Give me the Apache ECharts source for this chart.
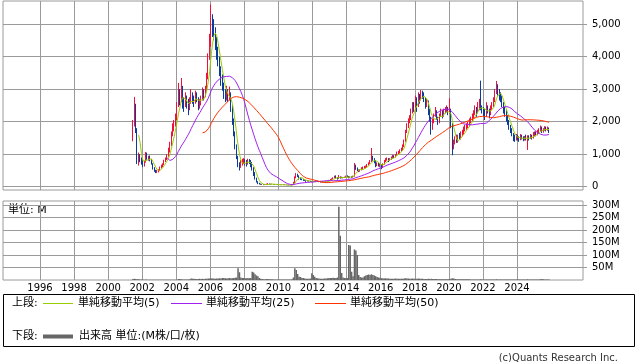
<!DOCTYPE html>
<html><head><meta charset="utf-8">
<script src="https://cdn.jsdelivr.net/npm/echarts@6/dist/echarts.min.js"></script>
<style>html,body{margin:0;padding:0;background:#fff}#c{width:638px;height:362px}</style>
</head><body><div id="c"></div>
<script>
// Monthly data, first candle = June 2001
const startYear = 2001, startMonth = 6;

const open = [
 1500,1950,2500,1750,800,950,820,
 760,650,760,1000,880,900,820,700,550,480,450,470,
 500,600,650,700,800,850,950,1100,1300,1600,1800,1900,
 2100,2500,2900,2700,3000,2600,2500,2700,2600,2400,2600,2800,
 2700,2600,2800,2700,2500,2600,2700,2900,2800,3000,3400,4000,
 4500,5100,4900,4700,4400,4100,3900,3600,3300,3100,2800,2700,
 2900,2700,2800,2400,2000,1600,1200,900,700,600,700,750,
 800,750,700,800,750,700,550,400,250,150,100,80,
 70,70,60,60,80,90,80,75,80,75,70,65,
 60,60,55,60,65,55,50,50,45,45,50,120,
 280,380,320,250,230,210,200,190,170,180,170,160,
 150,150,160,180,170,150,140,140,150,150,160,180,
 200,220,240,270,310,280,250,300,270,290,280,290,
 320,300,280,300,290,320,620,560,500,480,520,560,
 580,600,620,680,720,780,900,850,800,650,700,650,
 680,620,700,800,850,860,820,850,900,950,920,980,
 1050,1050,1100,1150,1250,1400,1700,1900,2000,2100,2300,2500,
 2400,2700,2500,2800,2700,2900,2800,2700,2500,2600,2300,2100,
 1800,2000,2200,2300,2100,2000,2200,2300,2200,2300,2350,2400,
 2300,2300,1900,1250,1350,1450,1400,1550,1500,1600,1650,1750,
 1800,1850,1900,2000,2050,2150,2250,2350,2300,2450,2650,2400,
 2350,2300,2200,2450,2350,2250,2400,2500,2650,2900,3050,2900,
 2800,2700,2550,2350,2250,2100,2000,1850,1750,1600,1500,1450,
 1550,1500,1450,1550,1500,1450,1500,1450,1550,1500,1550,1500,
 1600,1650,1600,1700,1750,1800,1700,1750,1800,1750,1800
];
const high = [
 2050,2760,2550,1800,1050,1000,900,
 850,800,1070,1050,950,960,850,720,600,520,520,540,
 620,680,720,830,900,1000,1200,1380,1700,1950,2050,2250,
 2600,3190,3000,3340,3100,2750,2900,2800,2700,2750,3000,2900,
 2800,2950,2900,2750,2700,2800,3050,3000,3100,3500,4100,4700,
 5600,5300,5150,4900,4600,4300,4000,3700,3450,3200,3000,3100,
 3000,3080,2900,2500,2100,1700,1300,950,750,820,860,880,
 850,820,860,850,820,760,600,450,280,170,120,95,
 85,80,75,95,110,100,90,95,85,80,75,70,
 70,65,70,75,70,60,60,55,55,60,150,320,
 420,400,350,280,250,230,220,200,200,190,180,170,
 165,175,200,190,175,160,155,160,160,170,190,210,
 240,260,290,340,350,290,360,320,310,300,310,340,
 350,330,320,320,340,730,680,590,530,540,600,620,
 640,650,700,750,820,1190,950,880,820,750,740,720,
 700,720,820,880,900,880,880,930,980,970,1000,1080,
 1100,1150,1200,1300,1450,1750,1950,2100,2200,2400,2600,2600,
 2800,2750,2900,2850,2970,2950,2900,2750,2700,2650,2400,2150,
 2100,2250,2450,2350,2150,2250,2400,2350,2400,2450,2500,2450,
 2720,2400,1950,1450,1550,1600,1600,1650,1700,1750,1850,1900,
 1950,2000,2100,2150,2250,2350,2500,2450,2600,2700,3260,2500,
 2450,2400,2600,2500,2400,2500,2600,2750,3000,3250,3150,3000,
 2900,2800,2600,2450,2350,2200,2050,1900,1800,1650,1600,1620,
 1600,1550,1620,1600,1550,1560,1600,1580,1580,1620,1600,1680,
 1700,1700,1750,1800,1880,1850,1800,1860,1850,1850,1820
];
const low = [
 1400,1850,1650,700,650,750,680,
 600,620,740,830,800,780,680,530,460,420,420,440,
 480,560,600,660,760,820,920,1050,1250,1550,1700,1850,
 2050,2450,2500,2600,2400,2300,2450,2400,2200,2350,2550,2550,
 2450,2550,2600,2350,2400,2500,2650,2650,2750,2950,3300,3900,
 4300,4600,4500,4200,3900,3700,3400,3100,2950,2700,2600,2650,
 2600,2650,2300,1900,1550,1150,850,600,500,580,650,700,
 650,620,680,700,600,500,330,220,130,80,70,60,
 55,50,50,55,70,70,65,70,65,60,55,55,
 50,50,50,55,50,45,45,40,40,40,50,110,
 260,300,220,210,200,180,180,150,160,160,150,140,
 140,145,155,160,140,130,130,135,140,145,155,175,
 190,210,230,260,260,220,240,250,260,260,270,280,
 290,260,270,270,280,310,520,480,450,460,500,530,
 560,570,600,650,700,760,800,720,600,630,620,600,
 540,580,680,760,800,760,800,830,870,880,900,960,
 980,1020,1080,1120,1220,1380,1650,1800,1950,2050,2250,2300,
 2350,2300,2450,2550,2650,2700,2600,2400,2450,2200,2000,1600,
 1750,1950,2150,2050,1900,1950,2150,2100,2150,2250,2300,2200,
 2250,1800,970,1150,1300,1350,1350,1450,1450,1550,1600,1700,
 1750,1800,1850,1950,2000,2100,2200,2150,2250,2350,2350,2250,
 2150,2050,2150,2250,2100,2200,2350,2450,2600,2850,2800,2650,
 2600,2450,2250,2150,2000,1900,1750,1650,1550,1400,1380,1420,
 1420,1380,1430,1450,1400,1420,1420,1130,1420,1470,1450,1480,
 1550,1550,1580,1650,1700,1650,1660,1720,1700,1720,1650
];
const close = [
 1950,2500,1750,800,950,820,760,
 650,760,1000,880,900,820,700,550,480,450,470,500,
 600,650,700,800,850,950,1100,1300,1600,1800,1900,2100,
 2500,2900,2700,3000,2600,2500,2700,2600,2400,2600,2800,2700,
 2600,2800,2700,2500,2600,2700,2900,2800,3000,3400,4000,4500,
 5100,4900,4700,4400,4100,3900,3600,3300,3100,2800,2700,2900,
 2700,2800,2400,2000,1600,1200,900,700,600,700,750,800,
 750,700,800,750,700,550,400,250,150,100,80,70,
 70,60,60,80,90,80,75,80,75,70,65,60,
 60,55,60,65,55,50,50,45,45,50,120,280,
 380,320,250,230,210,200,190,170,180,170,160,150,
 150,160,180,170,150,140,140,150,150,160,180,200,
 220,240,270,310,280,250,300,270,290,280,290,320,
 300,280,300,290,320,620,560,500,480,520,560,580,
 600,620,680,720,780,900,850,800,650,700,650,680,
 620,700,800,850,860,820,850,900,950,920,980,1050,
 1050,1100,1150,1250,1400,1700,1900,2000,2100,2300,2500,2400,
 2700,2500,2800,2700,2900,2800,2700,2500,2600,2300,2100,1800,
 2000,2200,2300,2100,2000,2200,2300,2200,2300,2350,2400,2300,
 2300,1900,1250,1350,1450,1400,1550,1500,1600,1650,1750,1800,
 1850,1900,2000,2050,2150,2250,2350,2300,2450,2650,2400,2350,
 2300,2200,2450,2350,2250,2400,2500,2650,2900,3050,2900,2800,
 2700,2550,2350,2250,2100,2000,1850,1750,1600,1500,1450,1550,
 1500,1450,1550,1500,1450,1500,1450,1550,1500,1550,1500,1600,
 1650,1600,1700,1750,1800,1700,1750,1800,1750,1800,1700
];
// volume in millions
const volume = [
 4,5,4,3,3,2,2,
 2,1,2,1,1,1,1,1,1,1,1,1,
 1,1,1,1,1,1,1,1,1,1,1,1,
 1,4,4,3,2,2,2,2,2,3,6,5,
 5,4,4,4,5,4,5,4,5,5,6,6,
 7,6,6,5,6,6,7,6,8,8,7,6,
 7,8,7,7,8,9,10,47,31,10,8,8,
 7,7,8,7,8,33,30,23,18,15,8,5,
 4,3,3,4,4,3,3,3,2,2,2,2,
 2,2,2,2,2,2,2,2,2,3,10,47,
 40,24,13,12,8,8,6,5,5,5,6,27,
 20,13,8,7,6,5,5,5,6,6,7,8,
 8,8,9,8,8,10,293,177,28,10,8,8,
 8,140,138,33,15,122,118,100,20,12,10,10,
 15,18,20,22,20,23,20,18,15,12,10,9,
 7,7,6,7,6,6,5,5,5,5,6,5,
 5,5,5,5,6,7,6,6,5,5,6,5,
 5,5,6,5,5,5,4,4,4,5,4,5,
 4,4,4,4,3,3,3,3,3,3,3,3,
 4,5,7,6,4,3,3,3,3,3,3,3,
 3,3,3,2,2,2,2,2,2,2,3,2,
 2,2,2,2,2,2,2,2,2,3,2,2,
 2,2,2,2,2,2,2,2,2,2,2,2,
 3,2,2,2,2,2,2,3,2,2,2,2,
 2,2,2,2,3,4,3,2,2,2,2
];

const yearTicks = [1996,1998,2000,2002,2004,2006,2008,2010,2012,2014,2016,2018,2020,2022,2024];
const priceTicks = [0,1000,2000,3000,4000,5000];
const volumeTicks = [50,100,150,200,250,300];
const maPeriods = [5,25,50];
const maColors = ['#99cc00','#a020f0','#ff3300'];
const maLabels = ['単純移動平均(5)','単純移動平均(25)','単純移動平均(50)'];

function tx(i){ return startYear + (startMonth - 1 + i + 0.5) / 12; }
function movingAverage(n){
  const out = [];
  for (let i = n - 1; i < close.length; i++) {
    let s = 0;
    for (let k = i - n + 1; k <= i; k++) s += close[k];
    out.push([tx(i), s / n]);
  }
  return out;
}
const candleData = close.map((c, i) => [tx(i), open[i], c, low[i], high[i]]);
const volData = volume.map((v, i) => [tx(i), v]);

const X0 = 1993.828, X1 = 2027.874;
const FONT = '"DejaVu Sans", "Noto Sans CJK JP", sans-serif';
const GRID = '#9a9a9a';

const chart = echarts.init(document.getElementById('c'), null, {renderer:'canvas'});

const lineSeries = maPeriods.map((p, k) => ({
  type:'line', xAxisIndex:0, yAxisIndex:0, data: movingAverage(p),
  showSymbol:false, symbol:'none', silent:true,
  lineStyle:{color:maColors[k], width:1}, z:3
}));

const xCommon = {
  type:'value', min:X0, max:X1,
  axisLine:{show:false},
  axisTick:{show:false, customValues:yearTicks},
  splitLine:{show:true, lineStyle:{color:GRID, width:1}}
};

const legendY1 = 303.5, legendY2 = 336.5;
const txt = (x, y, s) => ({type:'text', x:x, y:y,
  style:{text:s, fill:'#000', font:'11px ' + FONT, textVerticalAlign:'middle', verticalAlign:'middle'}});
const seg = (x1, x2, y, color, w) => ({type:'line', shape:{x1:x1, y1:y, x2:x2, y2:y}, style:{stroke:color, lineWidth:w}});

chart.setOption({
  animation:false,
  backgroundColor:'#fff',
  grid:[
    {left:3, top:1, width:580, height:189, show:true, borderColor:GRID, borderWidth:1, backgroundColor:'#fff'},
    {left:3, top:201, width:580, height:79, show:true, borderColor:GRID, borderWidth:1, backgroundColor:'#fff'}
  ],
  xAxis:[
    Object.assign({gridIndex:0, axisLabel:{show:false, customValues:yearTicks}}, xCommon),
    Object.assign({gridIndex:1, axisLabel:{show:true, customValues:yearTicks, formatter:v=>String(Math.round(v)),
      fontFamily:FONT, fontSize:10, color:'#000', margin:3}}, xCommon)
  ],
  yAxis:[
    {type:'value', gridIndex:0, position:'right', min:-100, max:5707,
     axisLine:{show:false},
     axisTick:{show:true, length:4, customValues:priceTicks, lineStyle:{color:GRID}},
     axisLabel:{customValues:priceTicks, formatter:v=>Math.round(v).toLocaleString('en-US'),
       fontFamily:FONT, fontSize:10, color:'#000', margin:9},
     splitLine:{show:true, lineStyle:{color:GRID, width:1}}},
    {type:'value', gridIndex:1, position:'right', min:0, max:316,
     axisLine:{show:false},
     axisTick:{show:true, length:4, customValues:volumeTicks, lineStyle:{color:GRID}},
     axisLabel:{customValues:volumeTicks, formatter:v=>Math.round(v)+'M',
       fontFamily:FONT, fontSize:10, color:'#000', margin:9},
     splitLine:{show:true, lineStyle:{color:GRID, width:1}}}
  ],
  series:[
    {type:'candlestick', xAxisIndex:0, yAxisIndex:0, data:candleData, barWidth:1.2, silent:true,
     itemStyle:{color:'#f0103c', color0:'#0a3a9c', borderColor:'#f0103c', borderColor0:'#0a3a9c', borderWidth:1}},
    ...lineSeries,
    {type:'bar', xAxisIndex:1, yAxisIndex:1, data:volData, barWidth:1.5, silent:true,
     itemStyle:{color:'#666666'}}
  ],
  graphic:[
    txt(8, 210, '単位: M'),
    {type:'rect', shape:{x:3.5, y:294.5, width:631, height:52}, style:{fill:'#fff', stroke:'#000', lineWidth:1}},
    txt(12, legendY1, '上段:'),
    seg(43, 73, legendY1, maColors[0], 1),
    txt(78, legendY1, maLabels[0]),
    seg(171, 202, legendY1, maColors[1], 1),
    txt(206, legendY1, maLabels[1]),
    seg(315, 346, legendY1, maColors[2], 1),
    txt(350, legendY1, maLabels[2]),
    txt(12, legendY2, '下段:'),
    seg(43, 73, legendY2, '#666666', 4),
    txt(79, legendY2, '出来高 単位:(M株/口/枚)'),
    {type:'text', x:618, y:358, style:{text:'(c)Quants Research Inc.', fill:'#333', font:'10px ' + FONT,
      align:'right', textAlign:'right', verticalAlign:'middle', textVerticalAlign:'middle'}}
  ]
});
</script>
</body></html>
